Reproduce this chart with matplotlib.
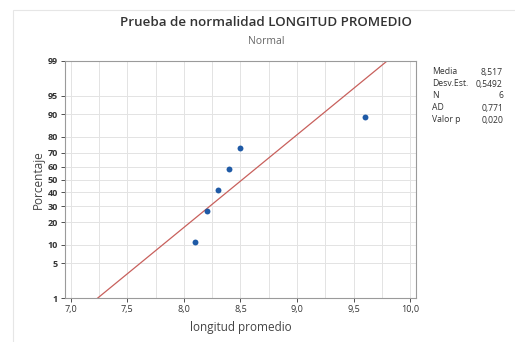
from statistics import NormalDist

import matplotlib
matplotlib.use("Agg")
import matplotlib.pyplot as plt
from matplotlib.patches import Rectangle

# data
longitud = [8.1, 8.2, 8.3, 8.4, 8.5, 9.6]
porcentaje = [10.9, 26.6, 42.2, 57.8, 73.4, 89.1]
media = 8.517
desv = 0.5492
stat_labels = ["Media", "Desv.Est.", "N", "AD", "Valor p"]
stat_values = ["8,517", "0,5492", "6", "0,771", "0,020"]
y_ticks = [1, 5, 10, 20, 30, 40, 50, 60, 70, 80, 90, 95, 99]
x_ticks = [7.0, 7.5, 8.0, 8.5, 9.0, 9.5, 10.0]

INK = "#333333"
GRID = "#e3e3e3"
BLUE = "#1f5aa6"
RED = "#c8605c"

plt.rcParams["font.family"] = ["Open Sans", "DejaVu Sans"]
nd = NormalDist()


def z(p):
    return nd.inv_cdf(p / 100.0)


fig = plt.figure(figsize=(5.15, 3.42), dpi=100)
fig.patches.append(Rectangle((13 / 515, -0.1), 1.2, 1.07, transform=fig.transFigure,
                             fill=False, edgecolor="#e6e6e6", linewidth=0.8))
ax = fig.add_axes([65 / 515, 1 - 298 / 342, 351 / 515, 237 / 342])

# grid
for x in [7.0 + 0.25 * i for i in range(13)]:
    ax.axvline(x, color=GRID, linewidth=0.7, zorder=0)
for p in y_ticks:
    ax.axhline(z(p), color=GRID, linewidth=0.7, zorder=0)

# fitted line
fit = NormalDist(media, desv)
x_lo, x_hi = fit.inv_cdf(0.01), fit.inv_cdf(0.99)
ax.plot([x_lo, x_hi], [(x_lo - media) / desv, (x_hi - media) / desv],
        color=RED, linewidth=0.9, zorder=2)

ax.scatter(longitud, [z(p) for p in porcentaje], s=18, color=BLUE,
           marker="o", zorder=3, linewidths=0)

ax.set_xlim(6.95, 10.05)
ax.set_ylim(z(1), z(99))
ax.set_xticks(x_ticks, [f"{v:.1f}".replace(".", ",") for v in x_ticks])
ax.set_yticks([z(p) for p in y_ticks], [str(p) for p in y_ticks])
ax.tick_params(axis="both", labelsize=6.5, colors=INK, length=3, width=0.6, pad=2)
for lab in ax.get_yticklabels():
    lab.set_fontweight("bold")
for s in ax.spines.values():
    s.set_color("#9a9a9a")
    s.set_linewidth(0.8)

ax.set_xlabel("longitud promedio", fontsize=8.5, color="#444444", labelpad=5)
ax.set_ylabel("Porcentaje", fontsize=8.5, color="#444444", labelpad=2)

fig.text(266 / 515, 1 - 22 / 342, "Prueba de normalidad LONGITUD PROMEDIO",
         ha="center", va="center", fontsize=9.6, color="#333333", fontweight="semibold")
fig.text(266 / 515, 1 - 41 / 342, "Normal", ha="center", va="center",
         fontsize=7.5, color="#666666")

for i, (lab, val) in enumerate(zip(stat_labels, stat_values)):
    y = 1 - (72 + 12 * i) / 342
    fig.text(432 / 515, y, lab, ha="left", va="center", fontsize=6.2, color=INK)
    fig.text(503 / 515, y, val, ha="right", va="center", fontsize=6.2, color=INK)

fig.savefig("out.png", dpi=100)
